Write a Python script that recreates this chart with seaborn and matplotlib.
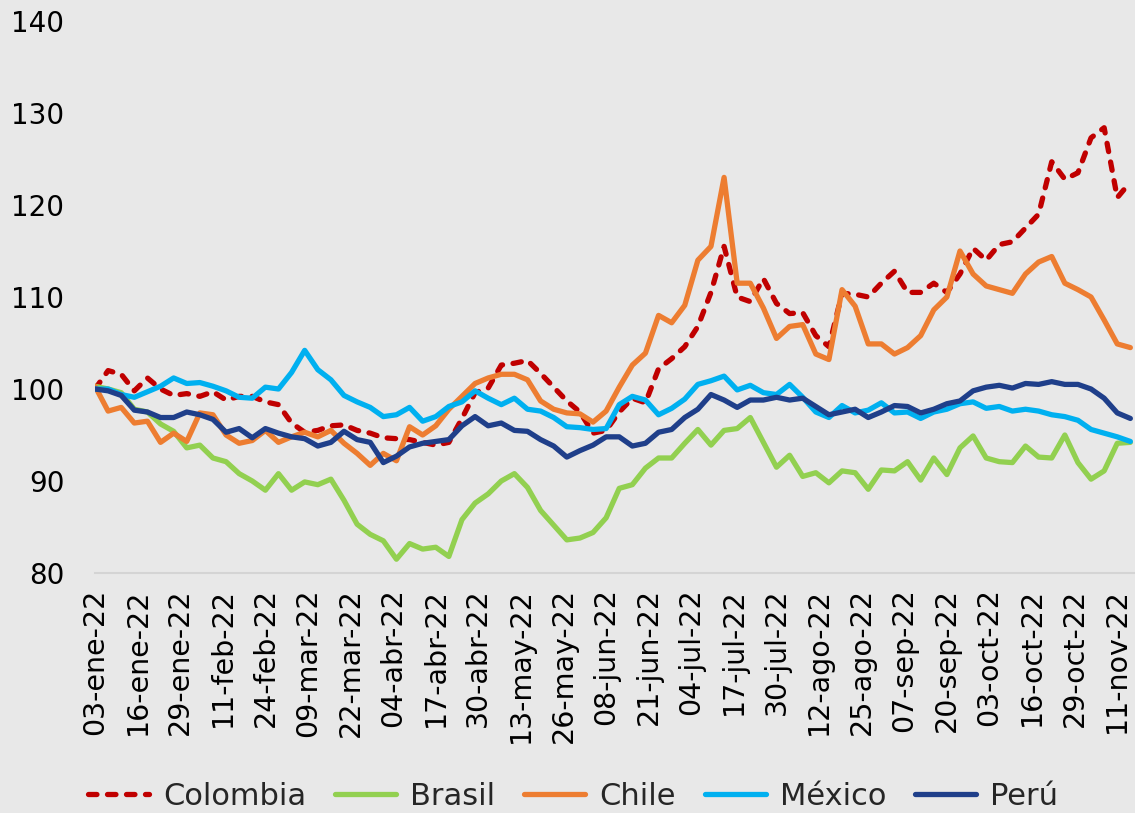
import pandas as pd
import seaborn as sns
import matplotlib.pyplot as plt

# índice base 100 = 03-ene-22, una observación cada 4 días
fechas = pd.date_range("2022-01-03", periods=80, freq="4D")

colombia = [100.0, 102.0, 101.6, 99.8, 101.2, 100.0, 99.3, 99.5, 99.2, 99.7,
            98.8, 99.2, 99.2, 98.6, 98.3, 96.3, 95.3, 95.5, 96.0, 96.1,
            95.5, 95.2, 94.7, 94.6, 94.5, 94.2, 93.9, 94.2, 96.8, 99.6,
            100.1, 102.6, 102.8, 103.1, 101.7, 100.2, 98.7, 97.5, 95.2, 95.5,
            97.5, 99.0, 98.5, 102.2, 103.3, 104.6, 106.8, 110.5, 115.5, 110.0,
            109.5, 112.0, 109.3, 108.2, 108.3, 105.8, 104.6, 110.4, 110.3, 110.0,
            111.5, 112.8, 110.5, 110.5, 111.5, 110.5, 112.5, 115.3, 114.0, 115.7,
            116.0, 117.5, 119.0, 124.7, 122.8, 123.5, 127.3, 128.4, 120.8, 122.5]

brasil = [100.3, 100.0, 99.6, 97.8, 97.5, 96.2, 95.4, 93.6, 93.9, 92.5,
          92.1, 90.8, 90.0, 89.0, 90.8, 89.0, 89.9, 89.6, 90.2, 87.9,
          85.3, 84.2, 83.5, 81.5, 83.2, 82.6, 82.8, 81.8, 85.8, 87.6,
          88.6, 90.0, 90.8, 89.3, 86.8, 85.2, 83.6, 83.8, 84.4, 86.0,
          89.2, 89.6, 91.4, 92.5, 92.5, 94.1, 95.6, 93.9, 95.5, 95.7,
          96.9, 94.2, 91.5, 92.8, 90.5, 90.9, 89.8, 91.1, 90.9, 89.1,
          91.2, 91.1, 92.1, 90.1, 92.5, 90.7, 93.6, 94.9, 92.5, 92.1,
          92.0, 93.8, 92.6, 92.5, 95.0, 92.0, 90.2, 91.1, 94.1, 94.2]

chile = [100.3, 97.6, 98.0, 96.3, 96.5, 94.2, 95.2, 94.3, 97.4, 97.2,
         95.0, 94.1, 94.4, 95.5, 94.2, 94.8, 95.3, 94.8, 95.5, 94.1,
         93.0, 91.7, 93.0, 92.2, 95.9, 95.0, 96.0, 97.8, 99.2, 100.6,
         101.2, 101.6, 101.6, 101.0, 98.7, 97.8, 97.4, 97.3, 96.4, 97.6,
         100.2, 102.6, 103.9, 108.0, 107.2, 109.1, 114.0, 115.5, 123.0, 111.5,
         111.5, 108.8, 105.5, 106.8, 107.0, 103.8, 103.2, 110.8, 109.0, 104.9,
         104.9, 103.8, 104.5, 105.8, 108.6, 110.0, 115.0, 112.5, 111.2, 110.8,
         110.4, 112.5, 113.8, 114.4, 111.5, 110.8, 110.0, 107.5, 104.9, 104.5]

mexico = [100.0, 100.0, 99.4, 99.1, 99.7, 100.3, 101.2, 100.6, 100.7, 100.3,
          99.8, 99.1, 99.0, 100.2, 100.0, 101.8, 104.2, 102.1, 101.0, 99.3,
          98.6, 98.0, 97.0, 97.2, 98.0, 96.5, 97.0, 98.1, 98.6, 99.8,
          99.0, 98.3, 99.0, 97.8, 97.6, 96.9, 95.9, 95.8, 95.6, 95.7,
          98.3, 99.2, 98.8, 97.2, 97.9, 98.9, 100.5, 100.9, 101.4, 99.9,
          100.4, 99.6, 99.4, 100.5, 99.1, 97.5, 96.9, 98.2, 97.4, 97.7,
          98.5, 97.4, 97.5, 96.8, 97.5, 97.8, 98.4, 98.6, 97.9, 98.1,
          97.6, 97.8, 97.6, 97.2, 97.0, 96.6, 95.6, 95.2, 94.8, 94.3]

peru = [100.0, 99.8, 99.3, 97.7, 97.5, 96.9, 96.9, 97.5, 97.2, 96.7,
        95.3, 95.7, 94.7, 95.7, 95.2, 94.8, 94.6, 93.8, 94.2, 95.4,
        94.5, 94.2, 92.0, 92.7, 93.7, 94.1, 94.3, 94.5, 96.0, 97.0,
        96.0, 96.3, 95.5, 95.4, 94.5, 93.8, 92.6, 93.3, 93.9, 94.8,
        94.8, 93.8, 94.1, 95.3, 95.6, 96.9, 97.8, 99.4, 98.8, 98.0,
        98.8, 98.8, 99.1, 98.8, 99.0, 98.1, 97.2, 97.5, 97.8, 96.9,
        97.5, 98.2, 98.1, 97.4, 97.8, 98.4, 98.7, 99.8, 100.2, 100.4,
        100.1, 100.6, 100.5, 100.8, 100.5, 100.5, 100.0, 99.0, 97.4, 96.8]

paises = ["Colombia", "Brasil", "Chile", "México", "Perú"]
colores = ["#C00000", "#92D050", "#ED7D31", "#00B0F0", "#1F3F8A"]

tick_fechas = pd.date_range("2022-01-03", "2022-11-11", freq="13D")
tick_labels = ["03-ene-22", "16-ene-22", "29-ene-22", "11-feb-22", "24-feb-22",
               "09-mar-22", "22-mar-22", "04-abr-22", "17-abr-22", "30-abr-22",
               "13-may-22", "26-may-22", "08-jun-22", "21-jun-22", "04-jul-22",
               "17-jul-22", "30-jul-22", "12-ago-22", "25-ago-22", "07-sep-22",
               "20-sep-22", "03-oct-22", "16-oct-22", "29-oct-22", "11-nov-22"]

sns.set_theme(style="white")
plt.rcParams["font.family"] = ["DejaVu Sans"]

bg = "#E8E8E8"
fig = plt.figure(figsize=(11.35, 8.13), dpi=100, facecolor=bg)
ax = fig.add_axes([95 / 1135, 1 - 573 / 813, 1 - 95 / 1135, (573 - 21) / 813])
ax.set_facecolor(bg)

series = [colombia, brasil, chile, mexico, peru]
for nombre, valores, color in zip(paises, series, colores):
    df = pd.DataFrame({"fecha": fechas, "valor": valores})
    sns.lineplot(data=df, x="fecha", y="valor", ax=ax, color=color,
                 linewidth=3.8, label=nombre)
    line = ax.lines[-1]
    line.set_solid_capstyle("round")
    if nombre == "Colombia":
        line.set_dashes((1.6, 2.0))
        line.set_dash_capstyle("round")

ax.set_xlim(pd.Timestamp("2022-01-03"), pd.Timestamp("2022-11-16 10:00"))
ax.set_ylim(80, 140)
ax.set_yticks(range(80, 141, 10))
ax.set_xticks(tick_fechas)
ax.set_xticklabels(tick_labels, rotation=90)
ax.set_xlabel("")
ax.set_ylabel("")

for s in ["top", "right", "left"]:
    ax.spines[s].set_visible(False)
ax.spines["bottom"].set_color("#D4D4D4")
ax.spines["bottom"].set_linewidth(1.5)
ax.tick_params(axis="y", length=0, pad=22, labelsize=20, colors="black")
ax.tick_params(axis="x", length=7, width=1.5, color="#D4D4D4", pad=4,
               labelsize=20.5, labelcolor="black")

ax.legend(loc="center", bbox_to_anchor=((573 - 95) / 1040, -0.405), ncol=5,
          frameon=False, fontsize=22, handlelength=2.0, handletextpad=0.45,
          columnspacing=0.95)

fig.savefig("out.png", dpi=100, facecolor=bg)
